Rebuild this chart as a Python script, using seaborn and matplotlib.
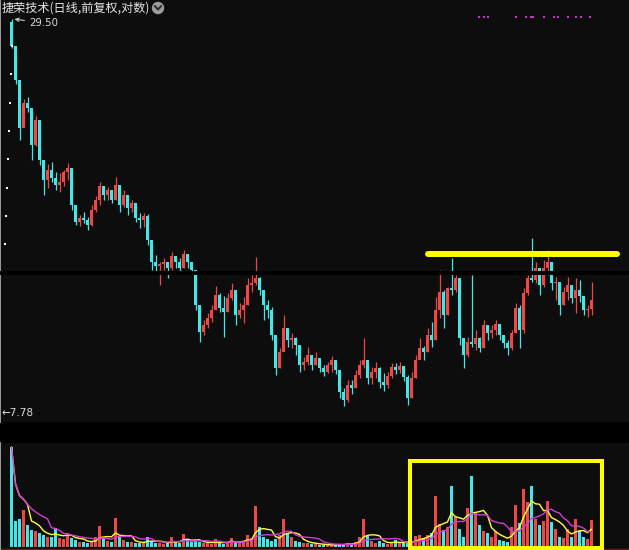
import matplotlib
matplotlib.use("Agg")
import matplotlib.pyplot as plt
from matplotlib.patches import Circle, Rectangle
from matplotlib.lines import Line2D
from matplotlib.ticker import NullLocator
import numpy as np
import pandas as pd
import seaborn as sns

# ---------------------------------------------------------------------------
# Daily candles (forward-adjusted, log scale)
# ---------------------------------------------------------------------------
first_open = 29.20

high = [
    29.50, 26.07, 21.95, 22.40, 22.55, 21.57, 21.13, 20.70, 18.16, 17.91,
    18.04, 17.42, 17.36, 17.54, 17.97, 17.54, 15.19, 15.03, 15.19, 14.92,
    15.55, 16.04, 16.84, 16.55, 16.55, 16.38, 17.13, 16.49, 16.38, 16.10,
    15.82, 15.55, 15.13, 15.13, 15.08, 13.56, 13.10, 12.78, 12.96, 12.78,
    13.23, 13.05, 12.96, 13.32, 13.10, 12.78, 12.43, 11.02, 10.47, 10.72,
    11.02, 11.77, 11.49, 11.37, 11.49, 11.89, 11.61, 11.10, 11.33, 12.09,
    12.22, 13.01, 12.13, 11.29, 11.21, 10.94, 9.94, 9.51, 10.65, 10.18,
    10.01, 9.87, 9.60, 9.22, 9.54, 9.22, 9.38, 9.12, 8.97, 9.06,
    9.25, 9.06, 8.75, 8.29, 8.51, 8.51, 8.81, 9.12, 9.84, 8.97,
    8.90, 9.06, 8.90, 8.72, 8.75, 9.03, 9.03, 9.06, 8.87, 8.66,
    8.75, 9.28, 9.84, 9.57, 10.18, 10.40, 11.33, 12.43, 11.61, 11.73,
    12.96, 12.22, 12.01, 9.77, 9.87, 12.22, 10.11, 9.87, 10.47, 10.29,
    10.29, 10.47, 10.25, 9.87, 9.77, 10.11, 11.10, 11.02, 11.69, 12.22,
    13.89, 12.78, 12.43, 12.87, 13.32, 12.78, 12.13, 11.89, 11.73, 12.13,
    11.81, 12.09, 12.01, 11.33, 11.02, 11.93,
]

low = [
    26.70, 23.59, 19.45, 20.49, 21.42, 18.16, 19.05, 17.85, 16.10, 16.49,
    16.84, 16.38, 16.27, 16.61, 16.95, 15.29, 14.52, 14.47, 14.62, 14.27,
    14.47, 15.19, 15.55, 15.82, 15.82, 15.66, 15.82, 15.19, 15.45, 15.03,
    15.19, 14.67, 14.37, 14.42, 13.56, 12.43, 12.35, 11.81, 12.43, 12.09,
    12.43, 12.52, 12.35, 12.52, 12.52, 12.35, 10.83, 9.70, 9.94, 10.18,
    10.40, 10.83, 10.76, 9.87, 10.76, 11.21, 10.29, 10.54, 10.36, 11.02,
    11.53, 11.81, 11.41, 10.47, 10.54, 9.77, 8.66, 8.87, 9.44, 9.54,
    9.51, 9.28, 8.75, 8.81, 8.97, 8.81, 8.97, 8.75, 8.63, 8.72,
    8.75, 8.69, 8.01, 7.78, 7.90, 8.12, 8.29, 8.57, 8.87, 8.40,
    8.40, 8.57, 8.29, 8.20, 8.29, 8.57, 8.69, 8.72, 8.48, 7.81,
    8.01, 8.57, 9.18, 9.12, 9.38, 9.54, 9.77, 10.54, 10.18, 10.65,
    11.41, 11.53, 9.60, 8.87, 9.22, 9.54, 9.44, 9.38, 9.51, 9.77,
    9.84, 9.94, 9.77, 9.51, 9.28, 9.44, 10.01, 9.51, 10.01, 11.41,
    11.93, 11.89, 11.41, 11.73, 12.22, 11.61, 11.21, 10.65, 11.02, 11.21,
    11.10, 10.72, 11.14, 10.65, 10.58, 10.65,
]

close = [
    26.88, 23.91, 20.27, 22.10, 21.72, 19.12, 20.84, 18.16, 16.95, 17.54,
    17.07, 16.67, 16.84, 17.42, 17.66, 15.55, 14.67, 14.87, 14.77, 14.52,
    15.29, 15.82, 16.61, 16.10, 16.38, 15.82, 16.67, 15.55, 16.10, 15.40,
    15.66, 14.87, 14.77, 14.98, 13.79, 12.78, 12.61, 12.69, 12.78, 12.52,
    13.05, 12.78, 12.52, 13.14, 12.78, 12.43, 11.02, 10.04, 10.29, 10.54,
    10.83, 11.41, 10.91, 10.76, 11.29, 11.61, 10.65, 10.83, 11.02, 11.81,
    11.89, 12.09, 11.61, 11.02, 10.83, 9.94, 8.87, 9.38, 10.18, 9.77,
    9.84, 9.60, 8.97, 9.06, 9.28, 8.97, 9.18, 8.87, 8.75, 8.97,
    9.12, 8.81, 8.17, 7.95, 8.37, 8.29, 8.66, 8.97, 9.12, 8.57,
    8.75, 8.87, 8.45, 8.37, 8.63, 8.90, 8.81, 8.93, 8.60, 8.01,
    8.57, 9.12, 9.51, 9.38, 9.94, 9.77, 10.83, 11.53, 10.65, 11.69,
    11.61, 12.09, 9.84, 9.28, 9.70, 9.64, 9.84, 9.51, 10.29, 10.01,
    10.11, 10.33, 9.94, 9.67, 9.51, 10.01, 10.91, 10.11, 11.49, 12.09,
    12.01, 12.52, 11.81, 12.52, 12.78, 11.89, 11.93, 11.02, 11.53, 11.81,
    11.29, 11.61, 11.37, 10.83, 10.87, 11.21,
]

volume = [
    100, 26, 28, 37, 22, 17, 16, 14, 12, 10,
    10, 19, 9, 8, 14, 9, 7, 5, 5, 4,
    6, 10, 21, 9, 6, 5, 29, 10, 7, 5,
    5, 4, 4, 5, 10, 6, 4, 4, 3, 4,
    10, 5, 4, 13, 7, 5, 6, 5, 4, 4,
    3, 8, 4, 3, 5, 9, 4, 4, 6, 12,
    9, 41, 20, 10, 8, 6, 8, 12, 28, 14,
    10, 6, 5, 4, 4, 3, 3, 2, 2, 2,
    2, 2, 3, 3, 4, 3, 5, 10, 28, 12,
    6, 4, 6, 4, 3, 5, 7, 4, 4, 5,
    5, 11, 12, 9, 12, 14, 51, 23, 17, 20,
    61, 30, 18, 10, 39, 71, 35, 22, 16, 14,
    10, 16, 7, 6, 5, 20, 42, 24, 58, 45,
    61, 28, 22, 26, 46, 25, 18, 10, 9, 18,
    10, 28, 16, 10, 8, 27,
]

# 10% log-grid markers on the left edge
grid_levels = [26.88, 24.41, 22.10, 20.06, 18.22, 16.49, 14.98, 13.60]
grid_dot_x = [0.2, -0.05, -0.3, -0.55, -0.8, -1.05, -1.3, -1.55]

# event markers along the top (candle positions)
event_idx = [116.9, 118.1, 119.1, 126.1, 128.6, 129.9, 130.4, 133.1,
             135.6, 136.6, 139.1, 141.1, 142.4, 144.6]

# user drawings
support_level = 12.30
resist_level = 13.14
resist_span = [104.1, 151.4]
box_span = [99.6, 147.6]
box_top = 86

title = "捷荣技术(日线,前复权,对数)"

# ---------------------------------------------------------------------------
UP = "#ef4646"
DOWN = "#46e6e6"
BG = "#0d0d0d"

sns.set_theme(style="dark", rc={"axes.facecolor": BG, "figure.facecolor": "#000000"})
plt.rcParams["font.family"] = ["Noto Sans CJK SC", "DejaVu Sans"]

W, H = 629, 550
fig = plt.figure(figsize=(W / 100, H / 100), dpi=100, facecolor="#000000")
ax = fig.add_axes([0, (H - 422) / H, 1, 422 / H])
axv = fig.add_axes([0, 0, 1, 107 / H])

idx = np.arange(len(close))
opens = np.array([first_open] + close[:-1])
closes = np.array(close)
colors = np.where(closes >= opens, UP, DOWN)

# --- price panel ---------------------------------------------------------
ax.set_yscale("log")
ax.vlines(idx, low, high, colors=colors, lw=0.9, zorder=3)
body_lo = np.minimum(opens, closes)
body_hi = np.maximum(opens, closes)
ax.bar(idx, body_hi - body_lo, bottom=body_lo, width=0.82, color=colors,
       linewidth=0, zorder=3)

ax.axhline(support_level, color="#000000", lw=2.9, zorder=4)
ax.plot(resist_span, [resist_level, resist_level], color="#ffff00", lw=4.3,
        solid_capstyle="round", zorder=5)

ax.scatter(grid_dot_x, grid_levels, s=1.5, color="#ffffff", marker="s",
           linewidths=0, zorder=4)
ax.scatter(event_idx, [0.96] * len(event_idx), s=3, color="#c832c8", marker="s",
           linewidths=0, transform=ax.get_xaxis_transform(), zorder=4)

top_i = int(np.argmax(high))
low_i = int(np.argmin(low))
ax.annotate(f"{high[top_i]:.2f}", xy=(top_i + 0.4, high[top_i]),
            xytext=(16, -4), textcoords="offset pixels",
            ha="left", va="center", fontsize=7.3, color="#dcdcdc",
            family="DejaVu Sans",
            arrowprops=dict(arrowstyle="->", color="#c8c8c8", lw=0.8,
                            shrinkA=1, shrinkB=1, mutation_scale=6))
ax.annotate(f"←{low[low_i]:.2f}", xy=(0, low[low_i]),
            xycoords=("axes fraction", "data"),
            xytext=(2, -7), textcoords="offset pixels",
            ha="left", va="center", fontsize=7.6, color="#dcdcdc",
            family="DejaVu Sans")

ax.set_xlim(-2.875, 154.375)
ax.set_ylim(7.37, 31.49)

# --- volume panel --------------------------------------------------------
axv.bar(idx, volume, width=0.92, color=colors, linewidth=0, zorder=2)
vol = pd.Series(volume, dtype=float)
sns.lineplot(x=idx, y=vol.rolling(5, min_periods=1).mean().values, ax=axv,
             color="#ffff3c", lw=1.0, zorder=3)
sns.lineplot(x=idx, y=vol.rolling(10, min_periods=1).mean().values, ax=axv,
             color="#d23cd2", lw=1.0, zorder=3)
axv.add_patch(Rectangle((box_span[0], -0.5), box_span[1] - box_span[0], box_top + 0.5,
                        fill=False, ec="#ffff00", lw=2.9, clip_on=False, zorder=5))
axv.axhline(-1.8, color="#7a1414", lw=1.0, zorder=1)
axv.set_xlim(-2.875, 154.375)
axv.set_ylim(-3, 104)

for a in (ax, axv):
    a.grid(False)
    a.xaxis.set_major_locator(NullLocator())
    a.xaxis.set_minor_locator(NullLocator())
    a.yaxis.set_major_locator(NullLocator())
    a.yaxis.set_minor_locator(NullLocator())
    a.set_xlabel("")
    a.set_ylabel("")
    for side in ("top", "right", "bottom"):
        a.spines[side].set_visible(False)
    a.spines["left"].set_color("#9a9a9a")
    a.spines["left"].set_linewidth(1.4)

# --- header --------------------------------------------------------------
fig.text(2 / W, 1 - 8 / H, title, ha="left", va="center", fontsize=8.7,
         color="#e6e6e6")
fig.patches.append(Circle((1.58, 5.42), 0.062, transform=fig.dpi_scale_trans,
                          facecolor="#9c9c9c", edgecolor="none"))
fig.lines.append(Line2D([1.548, 1.58, 1.612], [5.44, 5.405, 5.44],
                        transform=fig.dpi_scale_trans, color="#2a2a2a", lw=1.4))

fig.savefig("out.png", dpi=100, facecolor=fig.get_facecolor())
